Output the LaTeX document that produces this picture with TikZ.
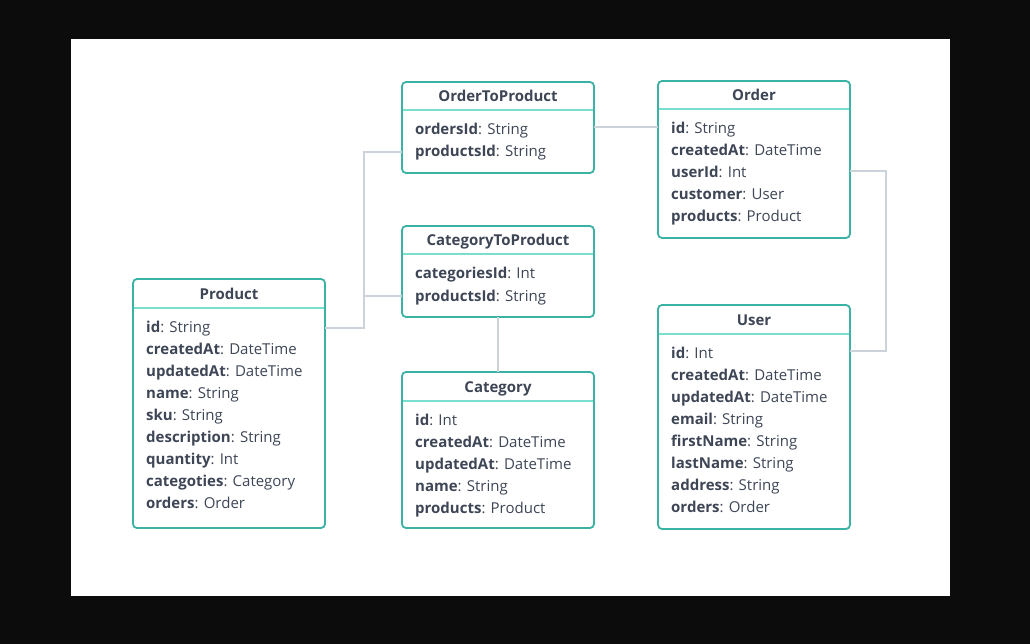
\documentclass[tikz,border=0pt]{standalone}
\usepackage{fontspec}
\setmainfont{Open Sans}
\usetikzlibrary{calc}
\definecolor{bgdark}{RGB}{12,12,12}
\definecolor{teal}{RGB}{58,178,164}
\definecolor{tealight}{RGB}{120,222,206}
\definecolor{conncol}{RGB}{203,210,217}
\definecolor{txt}{RGB}{62,70,86}
\tikzset{
  entitybox/.style={draw=teal, fill=white, line width=1.8pt, rounded corners=4pt,
    minimum width=192pt, inner sep=0pt, outer sep=0pt},
  headline/.style={draw=tealight, line width=2pt},
  titletext/.style={font=\fontsize{15}{18}\selectfont\bfseries, text=txt, inner sep=0pt},
  fieldtext/.style={font=\fontsize{15}{18}\selectfont, text=txt, inner sep=0pt},
  conn/.style={draw=conncol, line width=1.8pt}
}
\newcommand\entity[6]{%
  \node[entitybox, minimum height=#4pt, anchor=north west] (#1) at (#2,#3) {};
  \node[titletext, anchor=base] (#1-title) at ($(#1.north)+(0,20)$) {#5};
  \draw[headline] ($(#1.north west)+(0.9,28.5)$) -- ($(#1.north east)+(-0.9,28.5)$);
  \foreach \f/\t [count=\i] in {#6} {
    \node[fieldtext, anchor=base west] (#1-\i) at ($(#1.north west)+(13,{53+22*(\i-1)})$) {\textbf{\f}: \t};
  }
}
\begin{document}
\begin{tikzpicture}[x=1pt,y=-1pt]
\useasboundingbox (0,0) rectangle (1030,644);
\fill[bgdark] (0,0) rectangle (1030,644);
\fill[white] (71,39) rectangle (950,596);

\entity{product}{133}{279}{249}{Product}{id/String,createdAt/DateTime,updatedAt/DateTime,name/String,sku/String,description/String,quantity/Int,categoties/Category,orders/Order}
\entity{otp}{402}{82}{91}{OrderToProduct}{ordersId/String,productsId/String}
\entity{order}{658}{81}{157}{Order}{id/String,createdAt/DateTime,userId/Int,customer/User,products/Product}
\entity{ctp}{402}{226}{91}{CategoryToProduct}{categoriesId/Int,productsId/String}
\entity{category}{402}{372}{156}{Category}{id/Int,createdAt/DateTime,updatedAt/DateTime,name/String,products/Product}
\entity{user}{658}{305}{224}{User}{id/Int,createdAt/DateTime,updatedAt/DateTime,email/String,firstName/String,lastName/String,address/String,orders/Order}

\draw[conn] ($(product.north east)+(0,49)$) -- ++(39,0) |- ($(otp.north west)+(0,70)$);
\draw[conn] ($(ctp.north west)+(0,70)$) -- ++(-38,0);
\draw[conn] ($(otp.north east)+(0,45)$) -- ($(order.north west)+(0,46)$);
\draw[conn] ($(order.north east)+(0,90)$) -- ++(36,0) |- ($(user.north east)+(0,46)$);
\draw[conn] (ctp.south) -- (category.north);
\end{tikzpicture}
\end{document}
